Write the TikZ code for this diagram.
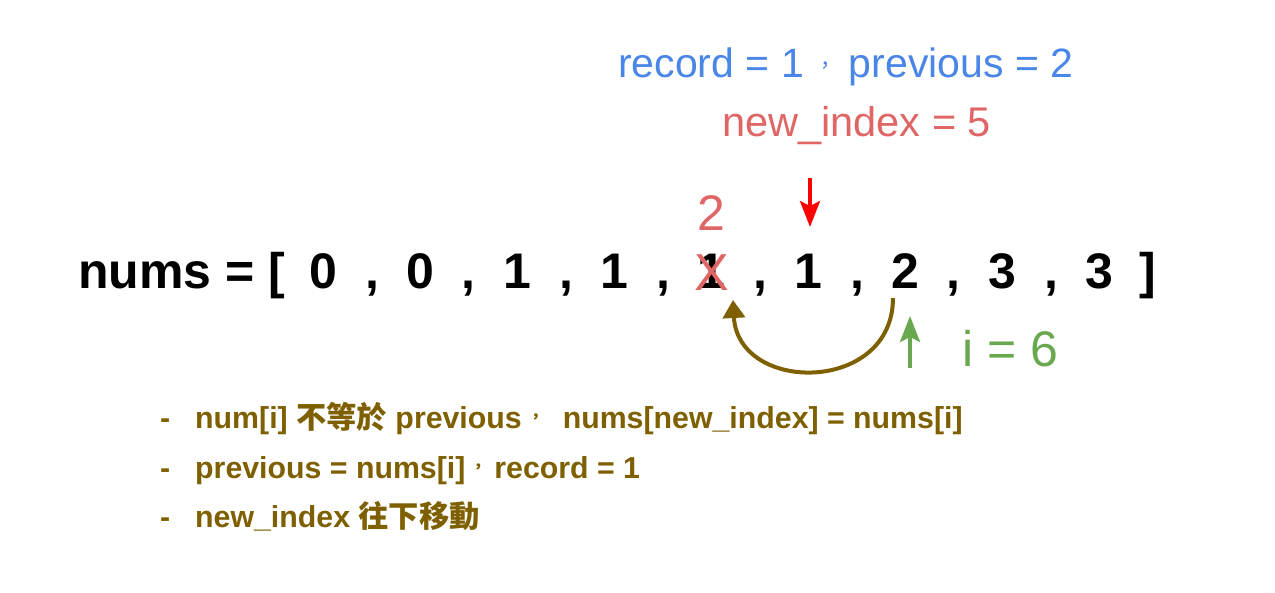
\documentclass[tikz,border=0pt]{standalone}
\usepackage{fontspec}
\setmainfont{Liberation Sans}
\newfontfamily\cjk{Noto Sans CJK TC}
\usetikzlibrary{arrows.meta}
\definecolor{cblue}{HTML}{4A86E8}
\definecolor{cred}{HTML}{E06666}
\definecolor{cbrightred}{HTML}{FF0000}
\definecolor{cgreen}{HTML}{6AA84F}
\definecolor{cbrown}{HTML}{7F6000}
\newcommand{\smallcjkcomma}[2]{\raisebox{#2}{\cjk\fontsize{#1}{#1}\selectfont ，}}
\tikzset{
  arr/.style={font=\fontsize{50}{50}\selectfont\bfseries, anchor=base, inner sep=0pt},
  note/.style={font=\fontsize{30.3}{30.3}\selectfont\bfseries, text=cbrown, anchor=base west, inner sep=0pt},
  label/.style={anchor=base west, inner sep=0pt},
  ptr/.style={line width=3.5pt, -{Stealth[length=26pt,width=20pt,inset=5pt]}}
}
\begin{document}
\begin{tikzpicture}[x=1pt,y=-1pt]
\useasboundingbox (0,0) rectangle (1275,592);
\fill[white] (0,0) rectangle (1275,592);
% top labels
\node[label, font=\fontsize{41}{41}\selectfont, text=cblue] (rec) at (618,77) {record = 1\hspace{11pt}\smallcjkcomma{22}{4pt}\hspace{12pt}previous = 2};
\node[label, font=\fontsize{41.5}{41.5}\selectfont, text=cred] (ni) at (722,136) {new\_index = 5};
% array
\node[arr, anchor=base west] (nums) at (78,288) {nums = [};
\node[arr] (d0) at (323,288) {0};
\node[arr] (c0) at (372,288) {,};
\node[arr] (d1) at (420,288) {0};
\node[arr] (c1) at (468,288) {,};
\node[arr] (d2) at (517,288) {1};
\node[arr] (c2) at (566,288) {,};
\node[arr] (d3) at (614,288) {1};
\node[arr] (c3) at (663,288) {,};
\node[arr] (d4) at (711,288) {1};
\node[arr] (c4) at (760,288) {,};
\node[arr] (d5) at (808,288) {1};
\node[arr] (c5) at (857,288) {,};
\node[arr] (d6) at (905,288) {2};
\node[arr] (c6) at (953,288) {,};
\node[arr] (d7) at (1002,288) {3};
\node[arr] (c7) at (1051,288) {,};
\node[arr] (d8) at (1099,288) {3};
\node[arr] (br) at (1148,288) {]};
% crossed out
\node[font=\fontsize{52}{52}\selectfont, text=cred, anchor=base, inner sep=0pt] (x) at (712,290) {X};
\node[font=\fontsize{50}{50}\selectfont, text=cred, anchor=base, inner sep=0pt] (two) at (711,230) {2};
% red arrow
\coordinate (ra) at (810,178);
\coordinate (rb) at (810,227);
\draw[cbrightred, ptr] (ra) -- (rb);
% green arrow and i
\coordinate (ga) at (910,368);
\coordinate (gb) at (910,316);
\draw[cgreen, ptr] (ga) -- (gb);
\node[font=\fontsize{50}{50}\selectfont, text=cgreen, anchor=base west, inner sep=0pt] (iv) at (962,366) {i = 6};
% brown curved arrow
\coordinate (bs) at (893,298);
\coordinate (be) at (733,300);
\draw[cbrown, line width=4pt, -{Triangle[length=18pt,width=22pt]}] (bs) .. controls (893,394) and (738,394) .. (be);
% notes
\node[note] (n1d) at (160,428) {-};
\node[note] (n1) at (195,428) {num[i] {\cjk 不等於} previous\hspace{6pt}\smallcjkcomma{16}{6pt}\hspace{19pt}nums[new\_index] = nums[i]};
\node[note] (n2d) at (160,478) {-};
\node[note] (n2) at (195,478) {previous = nums[i]\hspace{5pt}\smallcjkcomma{16}{6pt}\hspace{8pt}record = 1};
\node[note] (n3d) at (160,527) {-};
\node[note] (n3) at (195,527) {new\_index {\cjk 往下移動}};
\end{tikzpicture}
\end{document}
